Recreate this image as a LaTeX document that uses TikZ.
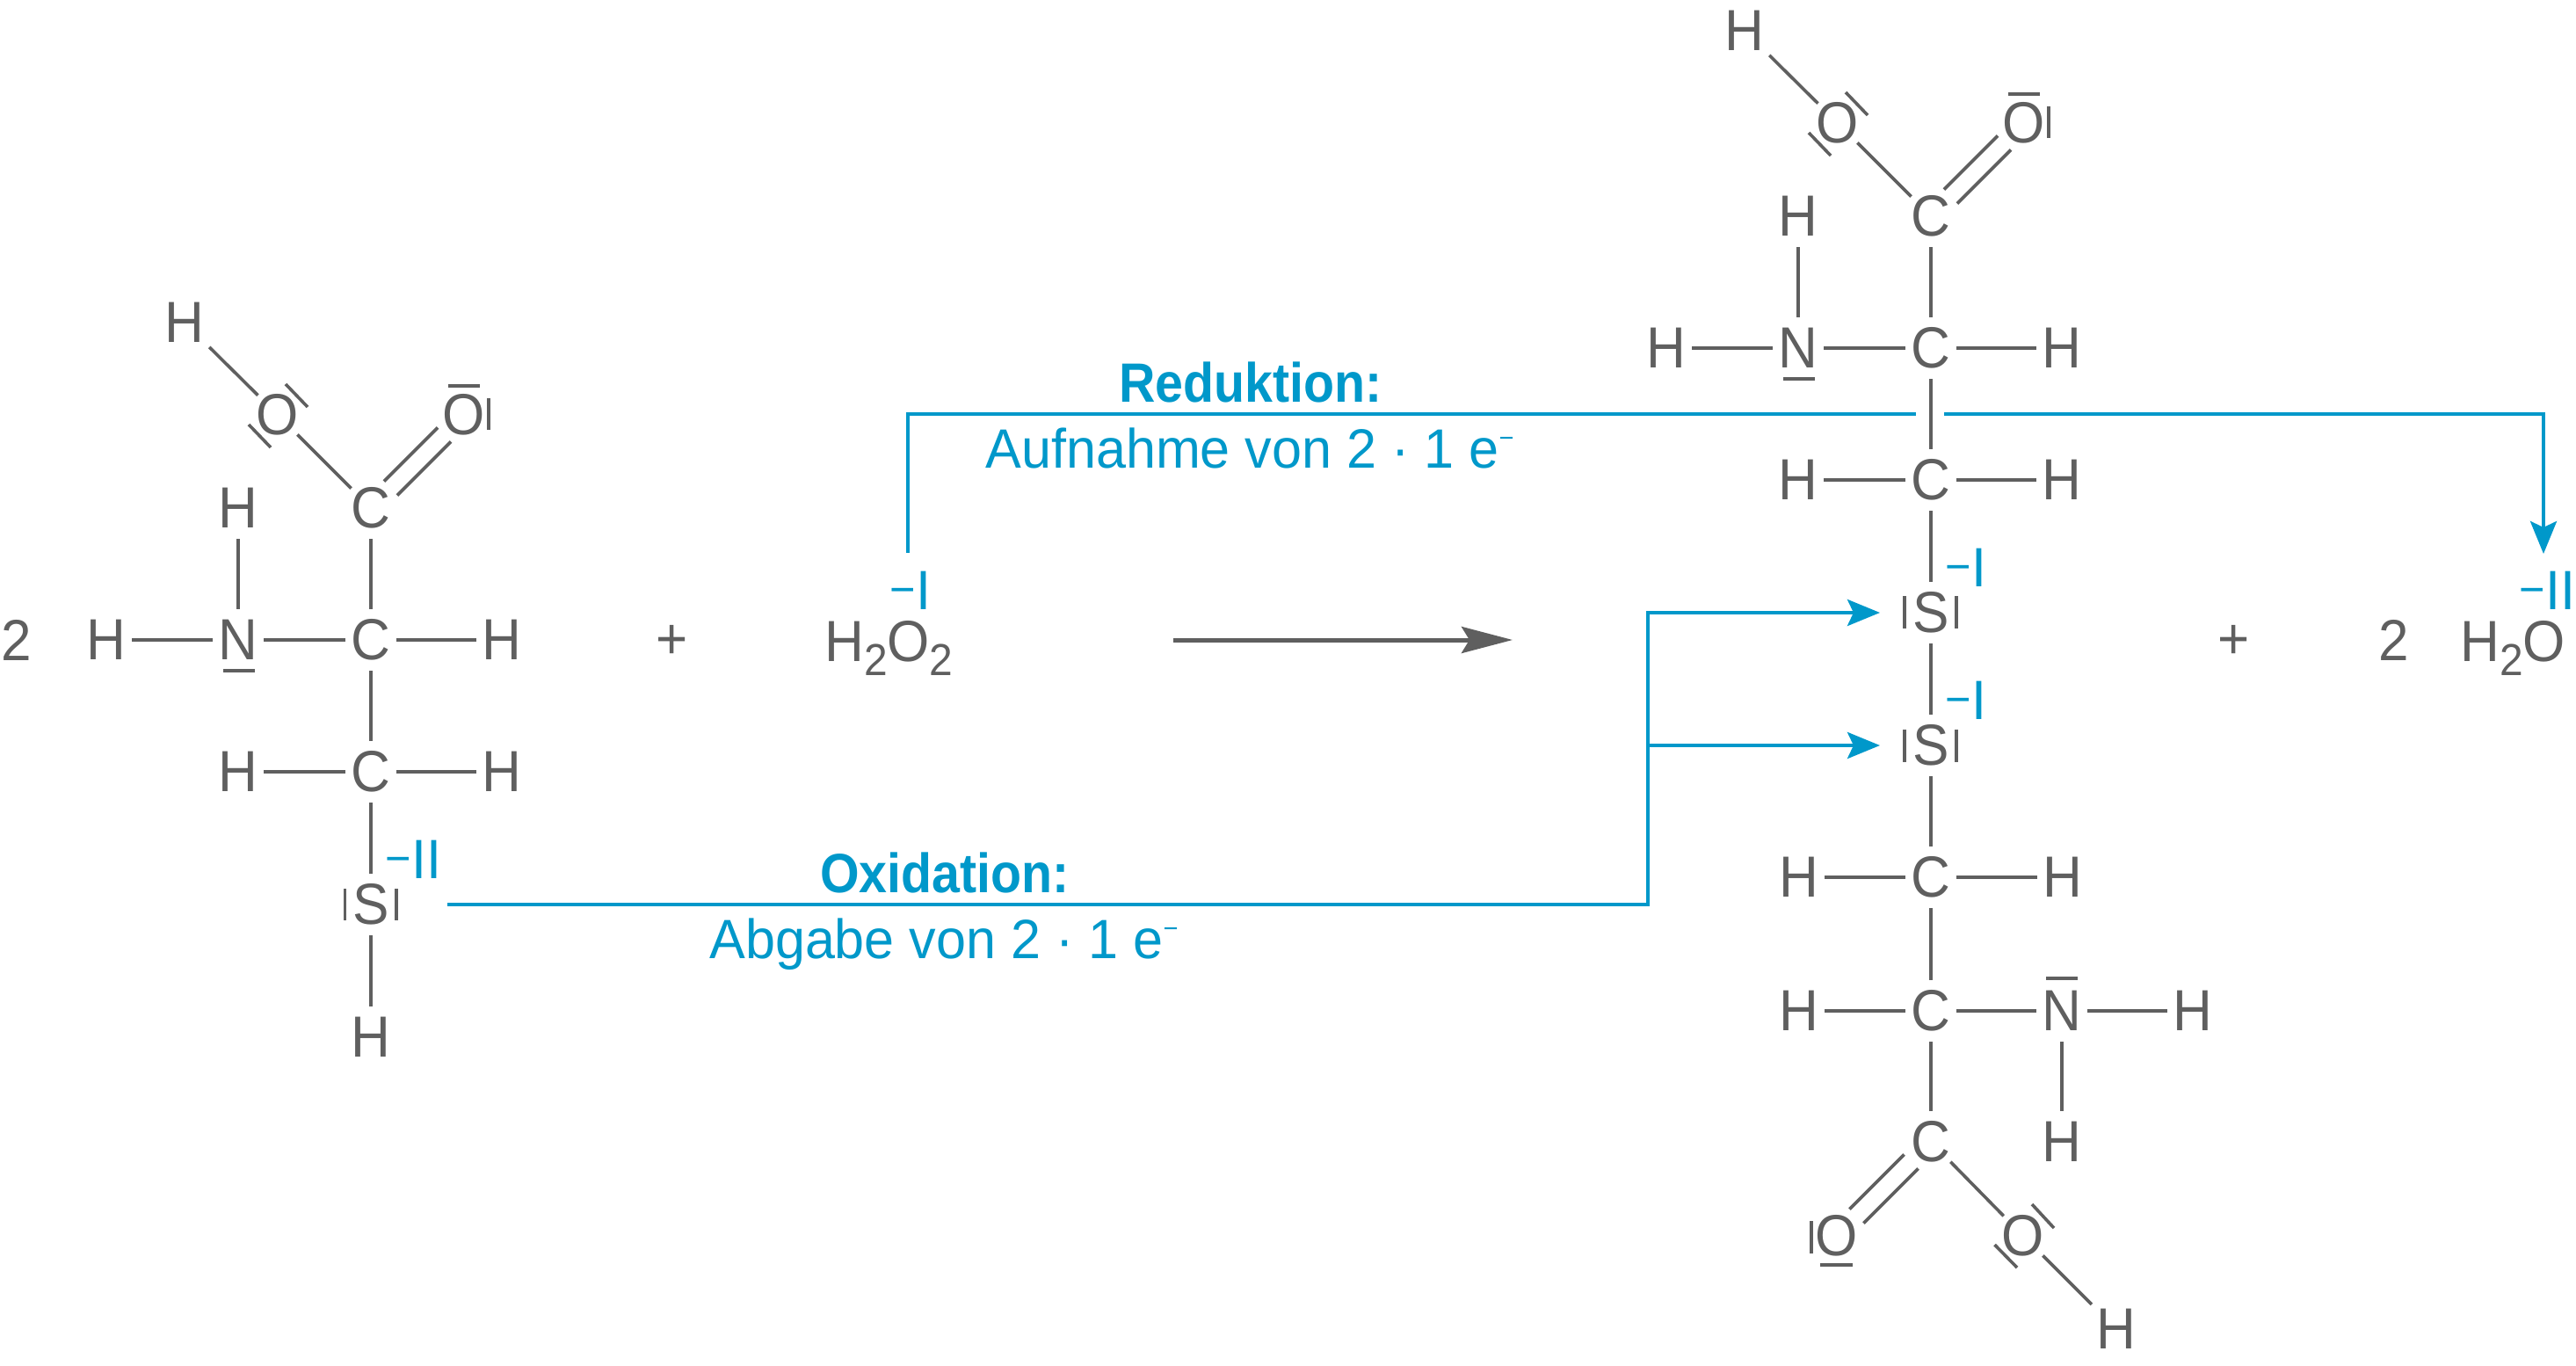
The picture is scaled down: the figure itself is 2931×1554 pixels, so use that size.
\documentclass[tikz,border=0pt]{standalone}
\usepackage{fontspec}
\usetikzlibrary{arrows.meta,shapes.geometric}
\setmainfont[FakeStretch=0.94]{Liberation Sans}
\newfontfamily\blufont[FakeStretch=0.97]{Liberation Sans}
\newfontfamily\hedfont[FakeStretch=0.91]{Liberation Sans}
\definecolor{ink}{HTML}{5F5F5F}
\definecolor{blu}{HTML}{0098CA}
\newcommand\atomfont{\fontsize{66}{70}\selectfont}
\newcommand\subtwo{\raisebox{-16pt}{\fontsize{51}{53}\selectfont 2}}
\newcommand\oxnum[1]{{\blufont\raisebox{5pt}{\fontsize{52}{52}\selectfont −}\kern1pt\fontsize{63}{66}\selectfont #1}}
\newcommand\emin{e\raisebox{24pt}{\fontsize{30}{30}\selectfont −}}
\tikzset{
  atom/.style={shape=ellipse,minimum width=58pt,minimum height=70pt,inner xsep=-10pt,inner ysep=0pt,text=ink,font=\atomfont},
  plain/.style={inner sep=0pt,text=ink,font=\atomfont},
  bond/.style={draw=ink,line width=3.6pt},
  lonepair/.style={draw=ink,line width=3.6pt},
  oxlabel/.style={inner sep=0pt,anchor=base west,text=blu},
  headtxt/.style={inner sep=0pt,anchor=base,text=blu,font=\hedfont\bfseries\fontsize{63}{66}\selectfont},
  bodytxt/.style={inner sep=0pt,anchor=base,text=blu,font=\blufont\fontsize{63}{66}\selectfont},
  blueline/.style={draw=blu,line width=4.4pt},
  bluearrow/.style={blueline,-{Stealth[length=37pt,width=30pt,inset=7pt]}},
  greyarrow/.style={draw=ink,line width=5pt,-{Stealth[length=58pt,width=30pt,inset=9pt]}}
}
\newcommand\upperpart{%
  \node[atom] (H1) at (210,367) {H};
  \node[atom] (O1) at (316,472) {O};
  \node[atom] (O2) at (528,472) {O};
  \node[atom] (C1) at (422,578) {C};
  \node[atom] (H2) at (271,578) {H};
  \node[atom] (H3) at (121,728) {H};
  \node[atom] (N1) at (271,728) {N};
  \node[atom] (C2) at (422,728) {C};
  \node[atom] (H4) at (571,728) {H};
  \node[atom] (H5) at (271,878) {H};
  \node[atom] (C3) at (422,878) {C};
  \node[atom] (H6) at (571,878) {H};
  \draw[bond,shorten <=8pt] (H1) -- (O1);
  \draw[bond] (O1) -- (C1);
  \draw[bond,transform canvas={shift={(-7.5,-8)}}] (C1) -- (O2);
  \draw[bond,transform canvas={shift={(7.5,8)}}] (C1) -- (O2);
  \draw[bond] (H2) -- (N1);
  \draw[bond] (C1) -- (C2);
  \draw[bond] (H3) -- (N1);
  \draw[bond] (N1) -- (C2);
  \draw[bond] (C2) -- (H4);
  \draw[bond] (C2) -- (C3);
  \draw[bond] (H5) -- (C3);
  \draw[bond] (C3) -- (H6);
  \draw[lonepair] (325,437) -- (350,463);
  \draw[lonepair] (283,483) -- (308,509);
  \draw[lonepair] (510,439) -- (546,439);
  \draw[lonepair] (556,453) -- (556,489);
  \draw[lonepair] (254,763) -- (290,763);
}
\begin{document}
\begin{tikzpicture}[x=1pt,y=-1pt]
\useasboundingbox (0,0) rectangle (2931,1554);
% left molecule
\node[plain] (two1) at (19,728) {2};
\begin{scope}[name prefix=L-]
  \upperpart
\end{scope}
\node[atom] (LS) at (422,1029) {S};
\node[atom] (LH) at (422,1180) {H};
\draw[bond] (L-C3) -- (LS);
\draw[bond] (LS) -- (LH);
\draw[lonepair] (392.5,1011) -- (392.5,1047);
\draw[lonepair] (451,1011) -- (451,1047);
\node[oxlabel] (oxA) at (438,999) {\oxnum{II}};
% H2O2
\node[plain] (plusA) at (765,730) {+};
\node[plain,anchor=base west] (perox) at (938,752) {H\subtwo O\subtwo};
\node[oxlabel] (oxB) at (1012,693) {\oxnum{I}};
% reaction arrow
\coordinate (arrA) at (1335,728);
\coordinate (arrB) at (1721,728);
\draw[greyarrow] (arrA) -- (arrB);
% right molecule
\begin{scope}[name prefix=R-,shift={(1775,-332)}]
  \upperpart
\end{scope}
\node[atom] (S1) at (2197,697) {S};
\node[atom] (S2) at (2197,848) {S};
\node[atom] (H7) at (2047,998) {H};
\node[atom] (C4) at (2197,998) {C};
\node[atom] (H8) at (2347,998) {H};
\node[atom] (H9) at (2047,1150) {H};
\node[atom] (C5) at (2197,1150) {C};
\node[atom] (N2) at (2346,1150) {N};
\node[atom] (H10) at (2495,1150) {H};
\node[atom] (H11) at (2346,1299) {H};
\node[atom] (C6) at (2197,1299) {C};
\node[atom] (O3) at (2090,1406) {O};
\node[atom] (O4) at (2302,1406) {O};
\node[atom] (H12) at (2408,1512) {H};
\draw[bond] (R-C3) -- (S1);
\draw[bond] (S1) -- (S2);
\draw[bond] (S2) -- (C4);
\draw[bond] (H7) -- (C4);
\draw[bond] (C4) -- (H8);
\draw[bond] (C4) -- (C5);
\draw[bond] (H9) -- (C5);
\draw[bond] (C5) -- (N2);
\draw[bond] (N2) -- (H10);
\draw[bond] (N2) -- (H11);
\draw[bond] (C5) -- (C6);
\draw[bond,transform canvas={shift={(-8,-8)}}] (C6) -- (O3);
\draw[bond,transform canvas={shift={(8,8)}}] (C6) -- (O3);
\draw[bond] (C6) -- (O4);
\draw[bond,shorten >=8pt] (O4) -- (H12);
\draw[lonepair] (2167,678) -- (2167,715);
\draw[lonepair] (2226,678) -- (2226,715);
\draw[lonepair] (2167,830) -- (2167,867);
\draw[lonepair] (2226,830) -- (2226,867);
\draw[lonepair] (2328,1113) -- (2364,1113);
\draw[lonepair] (2061,1389) -- (2061,1426);
\draw[lonepair] (2071,1439) -- (2108,1439);
\draw[lonepair] (2312,1370) -- (2337,1397);
\draw[lonepair] (2269.5,1416) -- (2295,1442);
\node[oxlabel] (oxC) at (2213,667) {\oxnum{I}};
\node[oxlabel] (oxD) at (2213,818) {\oxnum{I}};
% products
\node[plain] (plusB) at (2542,730) {+};
\node[plain] (two2) at (2724,728) {2};
\node[plain,anchor=base west] (water) at (2799,752) {H\subtwo O};
\node[oxlabel] (oxE) at (2866,693) {\oxnum{II}};
% reduction
\coordinate (redA) at (1033,629);
\coordinate (redB) at (1033,471);
\coordinate (redC) at (2180,471);
\coordinate (redD) at (2212,471);
\coordinate (redE) at (2894,471);
\coordinate (redF) at (2894,630);
\draw[blueline,line join=miter] (redA) -- (redB) -- (redC);
\draw[bluearrow,line join=miter] (redD) -- (redE) -- (redF);
\node[headtxt] (redT) at (1423,457) {Reduktion:};
\node[bodytxt] (redU) at (1422,532) {Aufnahme von 2 · 1 \emin};
% oxidation
\coordinate (oxiA) at (509,1029);
\coordinate (oxiB) at (1875,1029);
\coordinate (oxiC) at (1875,697);
\coordinate (oxiD) at (1875,848);
\coordinate (tipA) at (2139,697);
\coordinate (tipB) at (2139,848);
\draw[bluearrow,line join=miter] (oxiA) -- (oxiB) -- (oxiC) -- (tipA);
\draw[bluearrow] (oxiD) -- (tipB);
\node[headtxt] (oxiT) at (1075,1015) {Oxidation:};
\node[bodytxt] (oxiU) at (1074,1090) {Abgabe von 2 · 1 \emin};
\end{tikzpicture}
\end{document}
